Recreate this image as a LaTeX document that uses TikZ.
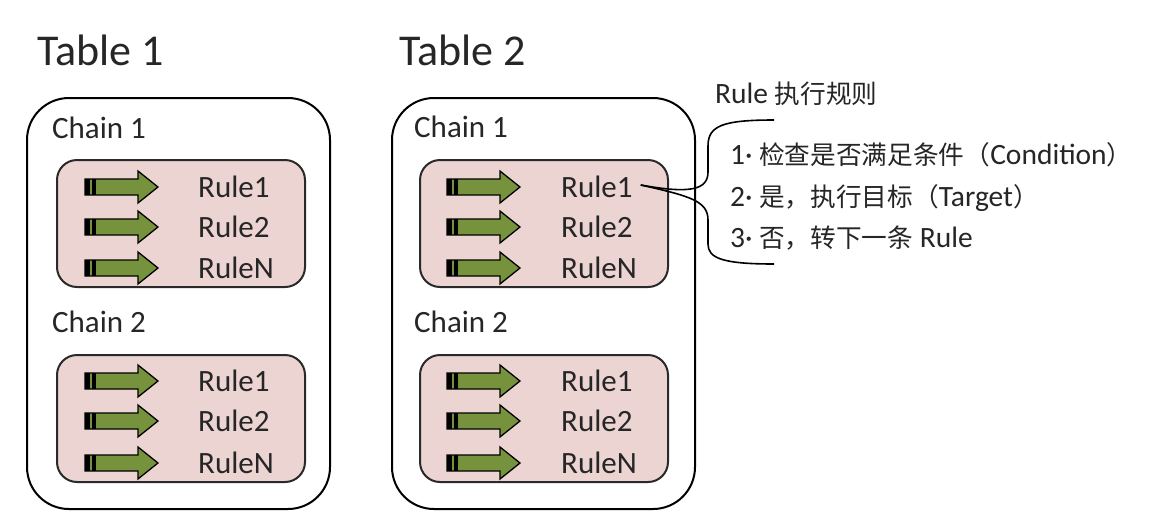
\documentclass[tikz,border=0pt]{standalone}
\usepackage{fontspec}
\setmainfont{Carlito}
\newfontfamily\cjk[Scale=0.87]{Noto Sans CJK SC}
\definecolor{pinkfill}{HTML}{EBD4D2}
\definecolor{arrowgreen}{HTML}{76923C}
\definecolor{boxline}{HTML}{2A2A2A}
\tikzset{
  tablebox/.style={draw=black, line width=2pt, rounded corners=42pt, minimum width=303pt, minimum height=411pt, inner sep=0pt},
  chainbox/.style={draw=boxline, line width=2pt, fill=pinkfill, rounded corners=20pt, minimum width=248pt, minimum height=127pt, inner sep=0pt},
  titletext/.style={font=\fontsize{44}{50}\selectfont, anchor=west, inner sep=0pt, text=black!85},
  chaintext/.style={font=\fontsize{31}{37}\selectfont, anchor=west, inner sep=0pt, text=black!85},
  ruletext/.style={font=\fontsize{31}{37}\selectfont, anchor=west, inner sep=0pt, text=black!85},
  notetext/.style={font=\fontsize{29.5}{34}\selectfont, anchor=west, inner sep=0pt, text=black!85},
  bracepath/.style={draw=black, line width=1.6pt},
  ruleArrow/.pic={
    \fill[arrowgreen, draw=black, line width=1.3pt, line join=miter]
      (0,-8) -- (53,-8) -- (53,-16) -- (73,0) -- (53,16) -- (53,8) -- (0,8) -- cycle;
    \fill[black] (0,-8) rectangle (5,8);
    \fill[black] (7,-8) rectangle (11,8);
  }
}
\begin{document}
\begin{tikzpicture}[x=1pt,y=-1pt]
\useasboundingbox (0,0) rectangle (1150,531);
\fill[white] (0,0) rectangle (1150,531);

% Tables
\node[titletext] (t1title) at (37,50) {Table 1};
\node[titletext] (t2title) at (399,50) {Table 2};
\node[tablebox] (t1box) at (178.5,303.5) {};
\node[tablebox] (t2box) at (543.5,303.5) {};

% Chain labels
\node[chaintext] (t1c1lab) at (52,128) {Chain 1};
\node[chaintext] (t1c2lab) at (52,322) {Chain 2};
\node[chaintext] (t2c1lab) at (414,127) {Chain 1};
\node[chaintext] (t2c2lab) at (414,322) {Chain 2};

% Chain boxes
\node[chainbox] (t1c1) at (181,223.5) {};
\node[chainbox] (t1c2) at (181,418.5) {};
\node[chainbox] (t2c1) at (544,223.5) {};
\node[chainbox] (t2c2) at (544,418.5) {};

% Table 1 chain 1
\pic at (85,187) {ruleArrow};
\pic at (85,227) {ruleArrow};
\pic at (85,268) {ruleArrow};
\node[ruletext] (t1c1r1) at (198,187) {Rule1};
\node[ruletext] (t1c1r2) at (198,227) {Rule2};
\node[ruletext] (t1c1rn) at (198,268) {RuleN};
% Table 1 chain 2
\pic at (85,381) {ruleArrow};
\pic at (85,421) {ruleArrow};
\pic at (85,463) {ruleArrow};
\node[ruletext] (t1c2r1) at (198,381) {Rule1};
\node[ruletext] (t1c2r2) at (198,421) {Rule2};
\node[ruletext] (t1c2rn) at (198,463) {RuleN};
% Table 2 chain 1
\pic at (447,187) {ruleArrow};
\pic at (447,227) {ruleArrow};
\pic at (447,268) {ruleArrow};
\node[ruletext] (t2c1r1) at (561,187) {Rule1};
\node[ruletext] (t2c1r2) at (561,227) {Rule2};
\node[ruletext] (t2c1rn) at (561,268) {RuleN};
% Table 2 chain 2
\pic at (447,381) {ruleArrow};
\pic at (447,421) {ruleArrow};
\pic at (447,463) {ruleArrow};
\node[ruletext] (t2c2r1) at (561,381) {Rule1};
\node[ruletext] (t2c2r2) at (561,421) {Rule2};
\node[ruletext] (t2c2rn) at (561,463) {RuleN};

% Rule notes
\node[notetext] (notetitle) at (715,94) {Rule {\cjk 执行规则}};
\node[notetext] (note1) at (730,155) {1· {\cjk 检查是否满足条件（}Condition{\cjk ）}};
\node[notetext] (note2) at (730,198) {2· {\cjk 是，执行目标（}Target{\cjk ）}};
\node[notetext] (note3) at (730,238) {3· {\cjk 否，转下一条} Rule};

% Brace
\coordinate (tip) at ([xshift=8pt,yshift=2pt]t2c1r1.east);
\coordinate (btop) at (774,120);
\coordinate (bbot) at (774,264);
\draw[bracepath] (btop) .. controls (722,120) and (708,126) .. (708,146) -- (708,172)
   .. controls (708,190) and (690,194) .. (tip);
\draw[bracepath] (tip) .. controls (690,196) and (708,201) .. (708,220) -- (708,244)
   .. controls (708,258) and (722,264) .. (bbot);
\end{tikzpicture}
\end{document}
